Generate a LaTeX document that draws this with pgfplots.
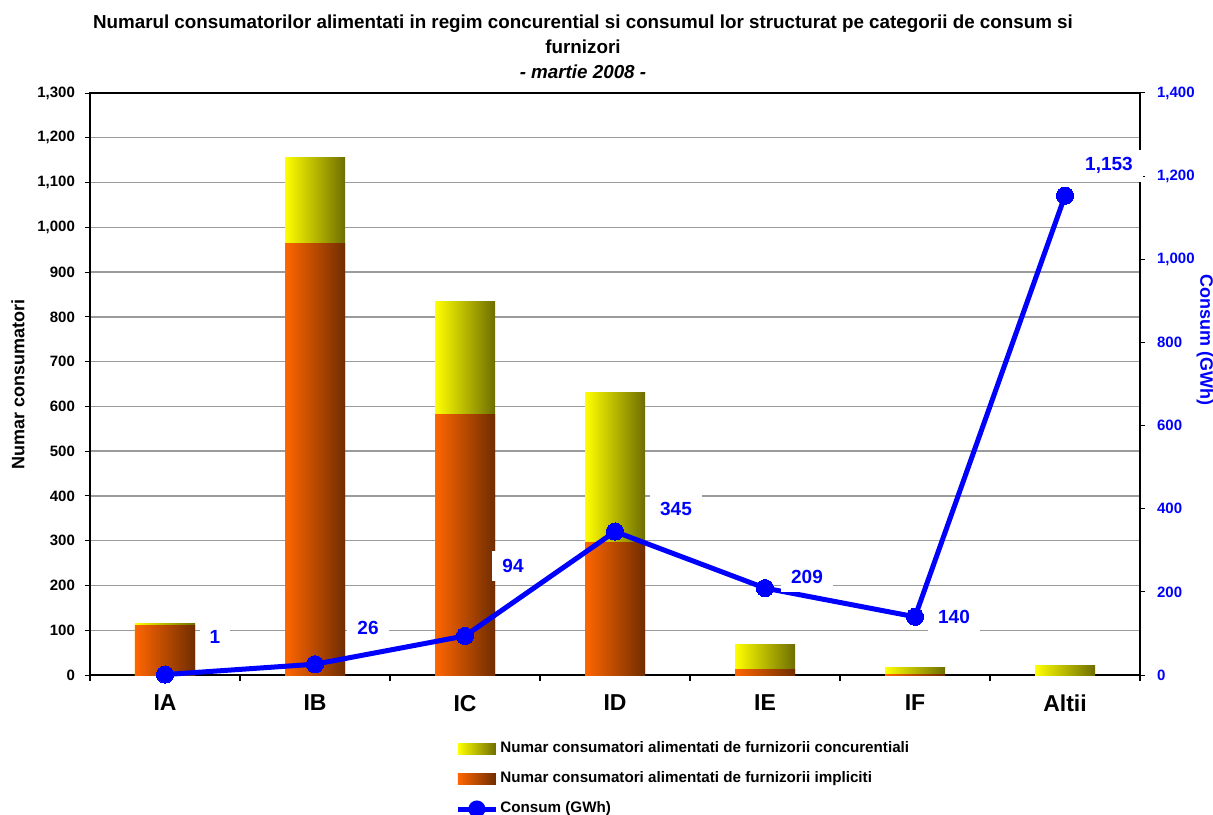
\documentclass[border=0pt]{standalone}
\usepackage{fontspec}
\setmainfont{Liberation Sans}
\usepackage{pgfplots}
\pgfplotsset{compat=1.18}
\definecolor{concL}{RGB}{255,255,0}
\definecolor{concR}{RGB}{110,110,0}
\definecolor{implL}{RGB}{255,102,0}
\definecolor{implR}{RGB}{112,45,0}
\definecolor{gridc}{RGB}{155,155,155}
\definecolor{lineb}{RGB}{0,0,255}

\pgfplotsset{
  concbar/.style={ybar, bar width=30pt, bar shift=0pt, draw=none, left color=concL, right color=concR, forget plot},
  implbar/.style={ybar, bar width=30pt, bar shift=0pt, draw=none, left color=implL, right color=implR, forget plot},
  barleg/.style={legend image code/.code={\fill[##1] (0pt,-2.6pt) rectangle (19pt,2.6pt);}},
  lineleg/.style={legend image code/.code={\draw[##1, mark=none] (0pt,0pt) -- (19pt,0pt); \fill[lineb] (9.5pt,0pt) circle (3pt);}},
}

\begin{document}
\begin{tikzpicture}
\useasboundingbox (-45pt,-69.5pt) rectangle (561.5pt,337.5pt);
\begin{axis}[
  at={(0pt,0pt)}, anchor=south west,
  scale only axis, width=525pt, height=291pt,
  xmin=-0.5, xmax=6.5, ymin=0, ymax=1300,
  xtick={0,...,6}, xticklabels={IA,IB,IC,ID,IE,IF,Altii},
  minor xtick={-0.5,0.5,...,6.5},
  major x tick style={draw=none},
  minor x tick style={black, line width=0.6pt},
  minor tick length=3pt,
  ytick={0,100,...,1300},
  tick pos=left,
  tick align=outside,
  major tick length=2.5pt,
  y tick style={black, line width=0.5pt},
  ymajorgrids, grid style={gridc, line width=0.7pt},
  axis line style={black, line width=0.7pt},
  /pgf/number format/.cd, 1000 sep={,}, assume math mode=true, /pgfplots/.cd,
  xticklabel style={font=\bfseries\fontsize{11.5}{13}\selectfont, yshift=-4pt},
  yticklabel style={font=\bfseries\fontsize{7.5}{9}\selectfont, xshift=-1.5pt},
  ylabel={Numar consumatori},
  ylabel style={at={(axis description cs:-0.0686,0.5)}, anchor=center, font=\bfseries\fontsize{9}{11}\selectfont},
  title={Numarul consumatorilor alimentati in regim concurential si consumul lor structurat pe categorii de consum si\\ furnizori\\ \textit{- martie 2008 -}},
  title style={at={(0.4695,1)}, anchor=south, yshift=0.75pt, inner sep=0pt, align=center, font=\bfseries\fontsize{9.4}{12.5}\selectfont},
  legend style={draw=none, fill=none, at={(0.3476,-0.1117)}, anchor=north west,
    font=\bfseries\fontsize{7.6}{9}\selectfont, row sep=6.4pt, inner sep=0pt,
    nodes={inner sep=1pt, text height=5.2pt, text depth=1.4pt}},
  legend cell align=left,
]
% concurrent + implicit = total height of each bar (concurrent part on top)
\addplot[concbar] coordinates {(0,115)};
\addplot[concbar] coordinates {(1,1155)};
\addplot[concbar] coordinates {(2,835)};
\addplot[concbar] coordinates {(3,632)};
\addplot[concbar] coordinates {(4,68)};
\addplot[concbar] coordinates {(5,17)};
\addplot[concbar] coordinates {(6,21)};
% implicit suppliers (lower part)
\addplot[implbar] coordinates {(0,111)};
\addplot[implbar] coordinates {(1,963)};
\addplot[implbar] coordinates {(2,581)};
\addplot[implbar] coordinates {(3,296)};
\addplot[implbar] coordinates {(4,13)};
\addplot[implbar] coordinates {(5,1)};
\addplot[implbar] coordinates {(6,0)};
\addlegendimage{draw=none, left color=concL, right color=concR, barleg}
\addlegendentry{Numar consumatori alimentati de furnizorii concurentiali}
\addlegendimage{draw=none, left color=implL, right color=implR, barleg}
\addlegendentry{Numar consumatori alimentati de furnizorii impliciti}
\addlegendimage{lineb, line width=2.5pt, lineleg}
\addlegendentry{Consum (GWh)}
\end{axis}

\begin{axis}[
  at={(0pt,0pt)}, anchor=south west,
  scale only axis, width=525pt, height=291pt,
  xmin=-0.5, xmax=6.5, ymin=0, ymax=1400,
  axis x line=none, axis y line*=right,
  ytick={0,200,...,1400},
  tick align=outside, major tick length=2.5pt,
  y tick style={black, line width=0.5pt},
  axis line style={black, line width=0.7pt},
  clip=false,
  /pgf/number format/.cd, 1000 sep={,}, assume math mode=true, /pgfplots/.cd,
  yticklabel style={font=\bfseries\fontsize{7.5}{9}\selectfont, text=lineb, xshift=2.5pt},
  ylabel={Consum (GWh)},
  ylabel style={at={(axis description cs:1.0619,0.576)}, anchor=center, rotate=180, text=lineb, font=\bfseries\fontsize{9}{11}\selectfont},
]
\addplot[lineb, line width=2.5pt, mark=*, mark size=4.3pt,
  mark options={solid, fill=lineb, line width=0pt},
  point meta=explicit symbolic, nodes near coords,
  visualization depends on={\thisrow{dx}\as\dx},
  visualization depends on={\thisrow{dy}\as\dy},
  every node near coord/.append style={anchor=center, xshift=\dx, yshift=\dy,
    fill=white, inner xsep=5pt, inner ysep=4pt, text=lineb,
    font=\bfseries\fontsize{9.5}{11}\selectfont}]
  table[x=x, y=y, meta=lab] {
x y lab dx dy
0 1 1 25 18.8
1 26 26 26.5 18
2 94 94 24 35
3 345 345 30.5 11.3
4 209 209 21 5.5
5 140 140 19.5 0
6 1153 1,153 22 15
};
\end{axis}
\end{tikzpicture}
\end{document}
